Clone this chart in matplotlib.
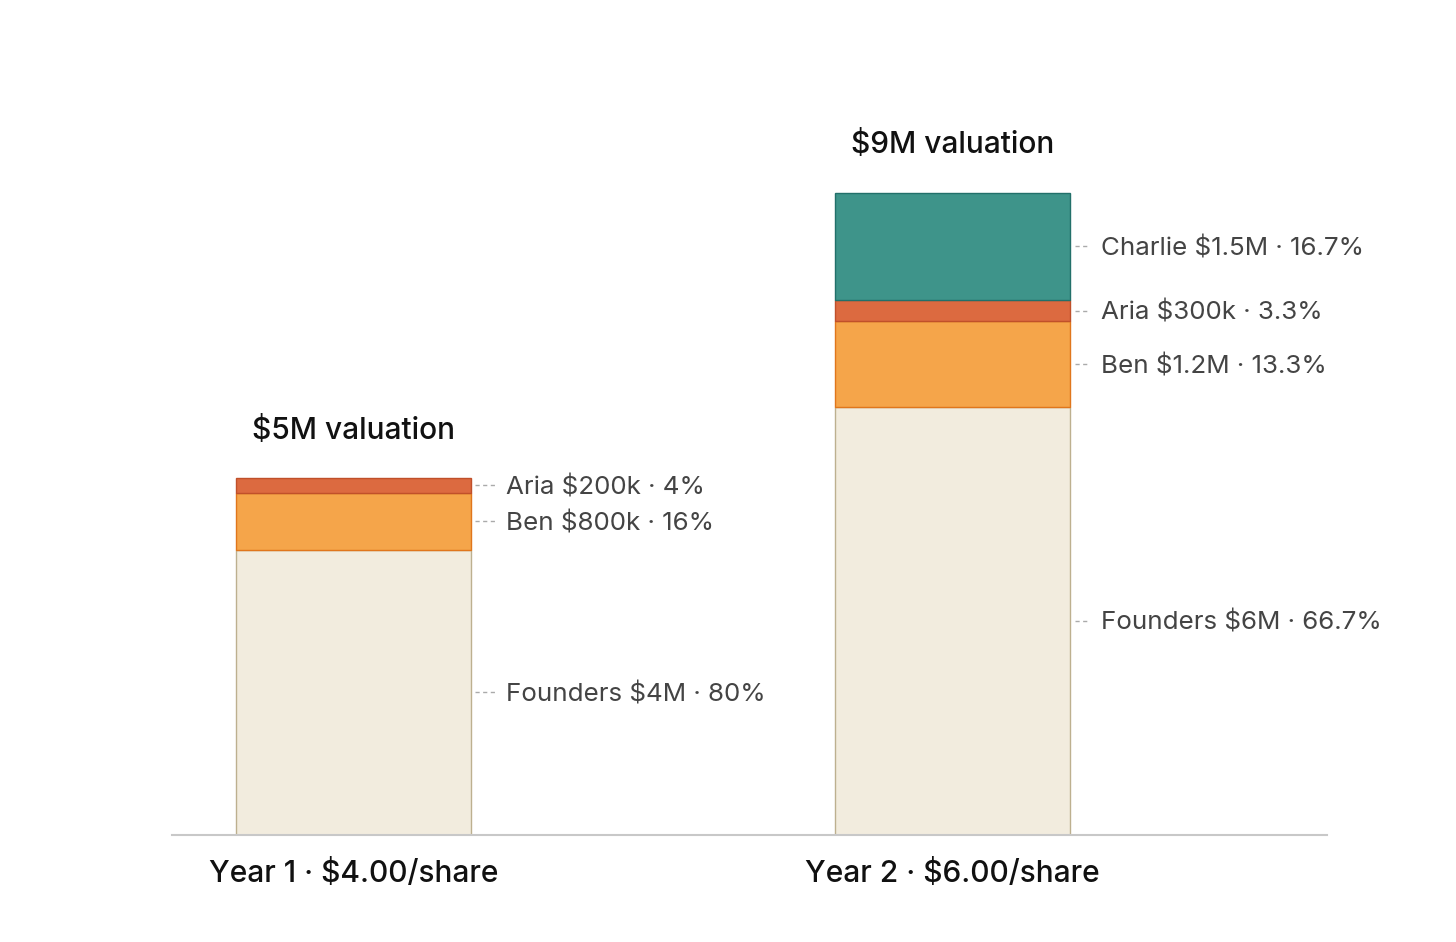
import matplotlib
matplotlib.use("Agg")
import matplotlib.pyplot as plt

plt.rcParams['font.family'] = ['Inter', 'DejaVu Sans']

years = ["Year 1 · $4.00/share", "Year 2 · $6.00/share"]
valuation_labels = ["$5M valuation", "$9M valuation"]
holders = ["Founders", "Ben", "Aria", "Charlie"]
# values in $M, per year, stacked bottom to top
founders = [4.0, 6.0]
ben = [0.8, 1.2]
aria = [0.2, 0.3]
charlie = [0.0, 1.5]
value_text = {
    "Founders": ["$4M", "$6M"],
    "Ben": ["$800k", "$1.2M"],
    "Aria": ["$200k", "$300k"],
    "Charlie": [None, "$1.5M"],
}
pct_text = {
    "Founders": ["80%", "66.7%"],
    "Ben": ["16%", "13.3%"],
    "Aria": ["4%", "3.3%"],
    "Charlie": [None, "16.7%"],
}

fills = {"Founders": "#F2ECDE", "Ben": "#F5A54A", "Aria": "#DC6A40", "Charlie": "#3E948A"}
edges = {"Founders": "#BDB08F", "Ben": "#E0761C", "Aria": "#C0502A", "Charlie": "#22706A"}

series = {"Founders": founders, "Ben": ben, "Aria": aria, "Charlie": charlie}

W, H = 1456, 942
fig = plt.figure(figsize=(W / 100, H / 100), dpi=100)
ax_left, ax_right, ax_base, ax_top = 172, 1327, 835, 50
ax = fig.add_axes([ax_left / W, 1 - ax_base / H, (ax_right - ax_left) / W, (ax_base - ax_top) / H])

px_per_unit = 599.0
xc = [0, 1]
ax.set_xlim(-181.5 / px_per_unit, 1 + (ax_right - ax_left - 780.5) / px_per_unit)
px_per_m = 71.35
ax.set_ylim(0, (ax_base - ax_top) / px_per_m)
bw = 235 / px_per_unit

line_off = [(4, 26), (5, 18)]
text_off = [35, 31]

bottoms = [0.0, 0.0]
for h in holders:
    vals = series[h]
    for i, x in enumerate(xc):
        v = vals[i]
        if v <= 0:
            continue
        ax.bar(x, v, bw, bottom=bottoms[i], color=fills[h], edgecolor=edges[h],
               linewidth=1.0, zorder=2)
        mid = bottoms[i] + v / 2
        right = x + bw / 2
        l0, l1 = line_off[i]
        ax.plot([right + l0 / px_per_unit, right + l1 / px_per_unit], [mid, mid],
                color="#AAAAAA", linewidth=1.0, linestyle=(0, (3, 2.5)), zorder=3)
        ax.annotate(f"{h} {value_text[h][i]} · {pct_text[h][i]}",
                    xy=(right, mid), xytext=(text_off[i], -2),
                    textcoords="offset pixels",
                    ha="left", va="center", fontsize=18.7, color="#444444")
        bottoms[i] += v

for i, x in enumerate(xc):
    ax.annotate(valuation_labels[i], xy=(x, bottoms[i]), xytext=(0, 48),
                textcoords="offset pixels", ha="center", va="center",
                fontsize=21.5, fontweight="medium", color="#111111")

ax.set_xticks(xc)
ax.set_xticklabels(years, fontsize=21.5, fontweight="medium", color="#111111")
ax.tick_params(axis="x", length=0, pad=17)
ax.set_yticks([])
for s in ["top", "right", "left"]:
    ax.spines[s].set_visible(False)
ax.spines["bottom"].set_color("#C8C8C8")
ax.spines["bottom"].set_linewidth(1.5)

fig.savefig("out.png", dpi=100, facecolor="white")
